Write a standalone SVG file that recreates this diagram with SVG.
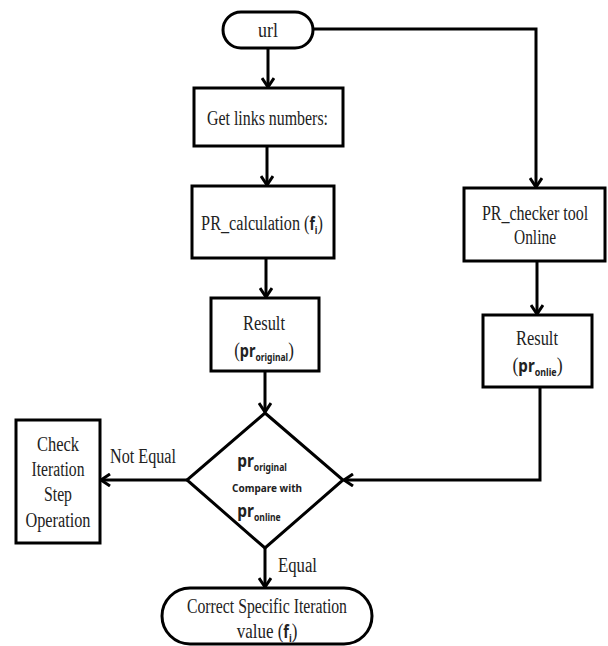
<svg xmlns="http://www.w3.org/2000/svg" width="608" height="646" viewBox="0 0 608 646">
<defs>
<marker id="arr" markerUnits="userSpaceOnUse" markerWidth="14" markerHeight="14" refX="11" refY="7" orient="auto">
<path d="M2,1 L11,7 L2,13" fill="none" stroke="#000" stroke-width="3"/>
</marker>
<style>
.box{fill:#fff;stroke:#000;stroke-width:3}
.ln{fill:none;stroke:#000;stroke-width:3;marker-end:url(#arr)}
.t{font-family:"Liberation Serif","Times New Roman",serif;font-size:20px;fill:#222;text-anchor:middle}
.b{font-family:"Noto Sans","Liberation Sans",sans-serif;font-weight:bold}
.c{font-family:"Noto Sans","Liberation Sans",sans-serif;font-weight:bold;font-size:11px;fill:#222;text-anchor:middle}
</style>
</defs>
<rect width="608" height="646" fill="#fff"/>
<g id="connectors">
<path class="ln" d="M268,48 L268,87"/>
<path class="ln" d="M267,146 L267,185"/>
<path class="ln" d="M266,258 L266,297"/>
<path class="ln" d="M265,371 L265,412"/>
<path class="ln" d="M313,29 L536,29 L536,187"/>
<path class="ln" d="M537,261 L537,314"/>
<path class="ln" d="M540,387 L540,480 L344,480"/>
<path class="ln" d="M187,480 L101,480"/>
<path class="ln" d="M265,548 L265,587"/>
<text class="t" x="143" y="463" textLength="66" lengthAdjust="spacingAndGlyphs">Not Equal</text>
<text class="t" x="297.5" y="572" textLength="39" lengthAdjust="spacingAndGlyphs">Equal</text>
</g>
<g id="url">
<rect class="box" x="223" y="12" width="90" height="36" rx="18"/>
<text class="t" x="268" y="37" textLength="20" lengthAdjust="spacingAndGlyphs">url</text>
</g>
<g id="get-links">
<rect class="box" x="194" y="88" width="149" height="58"/>
<text class="t" x="267.5" y="125" textLength="121" lengthAdjust="spacingAndGlyphs">Get links numbers:</text>
</g>
<g id="pr-calculation">
<rect class="box" x="192" y="186" width="142" height="72"/>
<text class="t" transform="translate(262,230) scale(0.81,1)" x="0" y="0">PR_calculation (<tspan class="b" font-size="17">f</tspan><tspan class="b" font-size="11" dy="4">i</tspan><tspan dy="-4">)</tspan></text>
</g>
<g id="result-original">
<rect class="box" x="211" y="298" width="108" height="73"/>
<text class="t" x="264" y="330" textLength="42" lengthAdjust="spacingAndGlyphs">Result</text>
<text class="t" transform="translate(264,357) scale(0.85,1)" x="0" y="0">(<tspan class="b" font-size="17">pr</tspan><tspan class="b" font-size="10" dy="4">original</tspan><tspan dy="-4">)</tspan></text>
</g>
<g id="pr-checker">
<rect class="box" x="464" y="188" width="141" height="73"/>
<text class="t" transform="translate(535,220) scale(0.8,1)" x="0" y="0">PR_checker tool</text>
<text class="t" x="535" y="244" textLength="42" lengthAdjust="spacingAndGlyphs">Online</text>
</g>
<g id="result-online">
<rect class="box" x="483" y="315" width="109" height="72"/>
<text class="t" x="537" y="345" textLength="42" lengthAdjust="spacingAndGlyphs">Result</text>
<text class="t" transform="translate(537.5,372) scale(0.89,1)" x="0" y="0">(<tspan class="b" font-size="17">pr</tspan><tspan class="b" font-size="10" dy="4">onlie</tspan><tspan dy="-4">)</tspan></text>
</g>
<g id="compare">
<polygon class="box" points="265,413 343,480 265,548 187,480"/>
<text class="t" transform="translate(262,467) scale(0.86,1)" x="0" y="0"><tspan class="b" font-size="18">pr</tspan><tspan class="b" font-size="10" dy="4">original</tspan></text>
<text class="c" x="267" y="492" textLength="70" lengthAdjust="spacingAndGlyphs">Compare with</text>
<text class="t" transform="translate(259,517) scale(0.86,1)" x="0" y="0"><tspan class="b" font-size="18">pr</tspan><tspan class="b" font-size="10" dy="4">online</tspan></text>
</g>
<g id="check-iteration">
<rect class="box" x="16" y="420" width="84" height="123"/>
<text class="t" x="58" y="451" textLength="42" lengthAdjust="spacingAndGlyphs">Check</text>
<text class="t" x="58" y="476" textLength="53" lengthAdjust="spacingAndGlyphs">Iteration</text>
<text class="t" x="58" y="501" textLength="28" lengthAdjust="spacingAndGlyphs">Step</text>
<text class="t" x="58" y="527" textLength="65" lengthAdjust="spacingAndGlyphs">Operation</text>
</g>
<g id="correct-value">
<rect class="box" x="162" y="588" width="210" height="56" rx="28"/>
<text class="t" x="267" y="613" textLength="160" lengthAdjust="spacingAndGlyphs">Correct Specific Iteration</text>
<text class="t" transform="translate(267,638) scale(0.85,1)" x="0" y="0">value (<tspan class="b" font-size="17">f</tspan><tspan class="b" font-size="11" dy="4">i</tspan><tspan dy="-4">)</tspan></text>
</g>
</svg>
